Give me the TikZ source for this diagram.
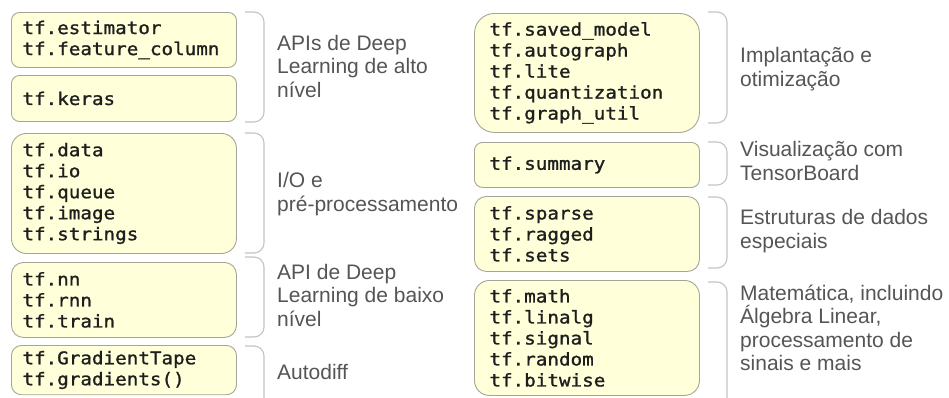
\documentclass[tikz,border=0pt]{standalone}
\usepackage{fontspec}
\setmainfont{Liberation Sans}
\newfontfamily\apimono[FakeStretch=1.1, FakeBold=1.2]{DejaVu Sans Mono}
\definecolor{boxfill}{HTML}{FFFFDA}
\definecolor{boxline}{HTML}{A6A698}
\definecolor{brk}{HTML}{C4C4C4}
\definecolor{lblgray}{HTML}{555555}
\definecolor{apitext}{HTML}{1E1E1E}
\tikzset{
  apibox/.style={draw=boxline, fill=boxfill, line width=0.9pt, anchor=north west,
    align=left, inner ysep=2pt, minimum width=225, text=apitext,
    font=\apimono\fontsize{17.5}{21}\selectfont},
  lbox/.style={apibox, inner xsep=11pt, text width=203pt},
  rbox/.style={apibox, inner xsep=15pt, text width=195pt},
  grp/.style={draw=brk, line width=1.1pt, rounded corners=10pt},
  lbl/.style={anchor=west, align=left, inner sep=0pt, text=lblgray,
    font=\fontsize{21}{23.5}\selectfont}
}
\begin{document}
\begin{tikzpicture}[x=1pt,y=-1pt]
\useasboundingbox (0,0) rectangle (949,397);
\clip (0,0) rectangle (949,397);
\fill[white] (0,0) rectangle (949,397);
% left column boxes
\node[lbox, minimum height=55, rounded corners=8pt] (estim) at (11,12) {tf.estimator\\tf.feature\_column};
\node[lbox, minimum height=46, rounded corners=8pt] (keras) at (11,75) {tf.keras};
\node[lbox, minimum height=120, rounded corners=15pt] (data) at (11,133) {tf.data\\tf.io\\tf.queue\\tf.image\\tf.strings};
\node[lbox, minimum height=75, rounded corners=12pt] (nn) at (11,262) {tf.nn\\tf.rnn\\tf.train};
\node[lbox, inner ysep=5.5pt, text depth=25pt, rounded corners=10pt] (grad) at (11,345) {tf.GradientTape\\tf.gradients()};
% right column boxes
\node[rbox, minimum height=119, rounded corners=20pt] (saved) at (474,13) {tf.saved\_model\\tf.autograph\\tf.lite\\tf.quantization\\tf.graph\_util};
\node[rbox, minimum height=45, rounded corners=8pt] (summ) at (474,142) {tf.summary};
\node[rbox, minimum height=75, rounded corners=12pt] (sparse) at (474,196) {tf.sparse\\tf.ragged\\tf.sets};
\node[rbox, minimum height=115, rounded corners=15pt] (math) at (474,280) {tf.math\\tf.linalg\\tf.signal\\tf.random\\tf.bitwise};
% left brackets
\draw[grp] (245,12) -- (264,12) -- (264,122) -- (245,122);
\draw[grp] (245,133) -- (264,133) -- (264,253) -- (245,253);
\draw[grp] (245,257) -- (264,257) -- (264,337) -- (245,337);
\draw[grp] (245,346) -- (264,346) -- (264,420) -- (245,420);
% right brackets
\draw[grp] (708,12) -- (727,12) -- (727,123) -- (708,123);
\draw[grp] (708,142) -- (727,142) -- (727,185) -- (708,185);
\draw[grp] (708,197) -- (727,197) -- (727,268) -- (708,268);
\draw[grp] (708,282) -- (727,282) -- (727,420) -- (708,420);
% labels
\node[lbl] (lhigh) at (277,66.2) {APIs de Deep\\Learning de alto\\nível};
\node[lbl] (lio) at (277,194.2) {I/O e\\pré-processamento};
\node[lbl] (llow) at (277,295.2) {API de Deep\\Learning de baixo\\nível};
\node[lbl] (lauto) at (277,372.4) {Autodiff};
\node[lbl] (rdeploy) at (740,69.2) {Implantação e\\otimização};
\node[lbl] (rvis) at (740,161.2) {Visualização com\\TensorBoard};
\node[lbl] (rstruct) at (740,231.2) {Estruturas de dados\\especiais};
\node[lbl] (rmath) at (740,327.7) {Matemática, incluindo\\Álgebra Linear,\\processamento de\\sinais e mais};
\end{tikzpicture}
\end{document}
